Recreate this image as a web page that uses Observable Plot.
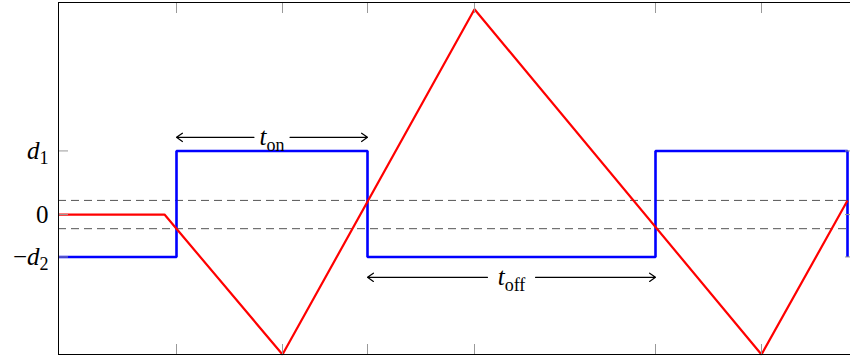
<!DOCTYPE html>
<html><head><meta charset="utf-8">
<script src="https://cdn.jsdelivr.net/npm/d3@7"></script>
<script src="https://cdn.jsdelivr.net/npm/@observablehq/plot@0.6"></script>
<style>
body{margin:0;overflow:hidden;background:#fff}
#chart{width:850px;height:360px;overflow:hidden}
</style>
</head><body><div id="chart"></div>
<script>
// Red signal (time, value)
const redT = [0, 106, 224, 416, 703, 789];
const redV = [0, 0, -3.3, 4.84, -3.3, 0.33];
// Blue switching output (time, value)
const blueT = [0, 118, 118, 309, 309, 597, 597, 789, 789];
const blueV = [-1, -1, 1.5, 1.5, -1, -1, 1.5, 1.5, -1];
// Hysteresis thresholds
const thresholds = [-1/3, 1/3];
// Ticks
const xTicks = [118, 224, 309, 416, 597, 703];
const yTicks = [-1, 0, 1.5];
const yTickLabels = ["−d_{2}", "0", "d_{1}"];
// Interval annotations
const spanStart = [118, 309];
const spanEnd = [309, 597];
const spanLevel = [1.82, -1.48];
const spanLabels = ["t_{on}", "t_{off}"];

const red = redT.map((t, i) => ({t, v: redV[i]}));
const blue = blueT.map((t, i) => ({t, v: blueV[i]}));
const spans = spanStart.map((s, i) => ({x1: s, x2: spanEnd[i], y: spanLevel[i], label: spanLabels[i], mid: (s + spanEnd[i]) / 2}));
const labelGap = [18, 24];

const FONT = "Liberation Serif, Times New Roman, serif";
const FS = 25;

const arrowMarks = spans.flatMap((s, i) => [
  Plot.arrow([s], {x1: "mid", y1: "y", x2: "x1", y2: "y", insetStart: labelGap[i], headLength: 9, headAngle: 70, stroke: "black", strokeWidth: 1.2}),
  Plot.arrow([s], {x1: "mid", y1: "y", x2: "x2", y2: "y", insetStart: labelGap[i], headLength: 9, headAngle: 70, stroke: "black", strokeWidth: 1.2})
]);

const svg = Plot.plot({
  width: 854,
  height: 360,
  marginLeft: 58,
  marginRight: 0,
  marginTop: 2,
  marginBottom: 6,
  style: {fontFamily: FONT, fontSize: FS + "px", maxWidth: "none", background: "white", color: "black"},
  x: {domain: [0, 796]},
  y: {domain: [-3.3, 5]},
  marks: [
    Plot.ruleY(thresholds, {stroke: "#555", strokeWidth: 1, strokeDasharray: "8,5"}),
    Plot.line(blue, {x: "t", y: "v", stroke: "#0000ff", strokeWidth: 2.6, strokeLinejoin: "miter", strokeLinecap: "butt"}),
    Plot.line(red, {x: "t", y: "v", stroke: "#ff0000", strokeWidth: 2.2, strokeLinejoin: "miter", strokeLinecap: "butt"}),
    ...arrowMarks,
    Plot.text(spans, {x: "mid", y: "y", text: "label", fontSize: FS, fontFamily: FONT, fill: "black"}),
    Plot.axisX(xTicks, {anchor: "bottom", tickSize: 10, dy: -10, fill: "none", stroke: "#999", label: null}),
    Plot.axisX(xTicks, {anchor: "top", tickSize: 10, dy: 10, fill: "none", stroke: "#999", label: null}),
    Plot.axisY(yTicks, {anchor: "left", tickSize: 10, dx: 10, fill: "none", stroke: "#999", label: null}),
    Plot.axisY(yTicks, {anchor: "right", tickSize: 10, dx: -10, fill: "none", stroke: "#999", label: null}),
    Plot.axisY(yTicks, {anchor: "left", tickSize: 0, tickPadding: 10, stroke: "none", fill: "black", fontSize: FS, fontFamily: FONT, label: null,
      tickFormat: d => yTickLabels[yTicks.indexOf(d)]}),
    Plot.frame({stroke: "black", strokeWidth: 1})
  ]
});

function setRich(el) {
  const str = el.textContent;
  const m = str.match(/^(−?)([a-z])(?:_\{(.*)\})?$/);
  if (!m) return;
  el.textContent = "";
  const ns = "http://www.w3.org/2000/svg";
  if (m[1]) { const t = document.createElementNS(ns, "tspan"); t.textContent = m[1]; el.appendChild(t); }
  const b = document.createElementNS(ns, "tspan");
  b.setAttribute("font-style", "italic");
  b.textContent = m[2];
  el.appendChild(b);
  if (m[3]) {
    const s = document.createElementNS(ns, "tspan");
    s.setAttribute("dy", "0.3em");
    s.setAttribute("font-size", "72%");
    s.textContent = m[3];
    el.appendChild(s);
  }
}
d3.select(svg).selectAll("text").each(function() { setRich(this); });

document.getElementById("chart").appendChild(svg);
</script>
</body></html>
